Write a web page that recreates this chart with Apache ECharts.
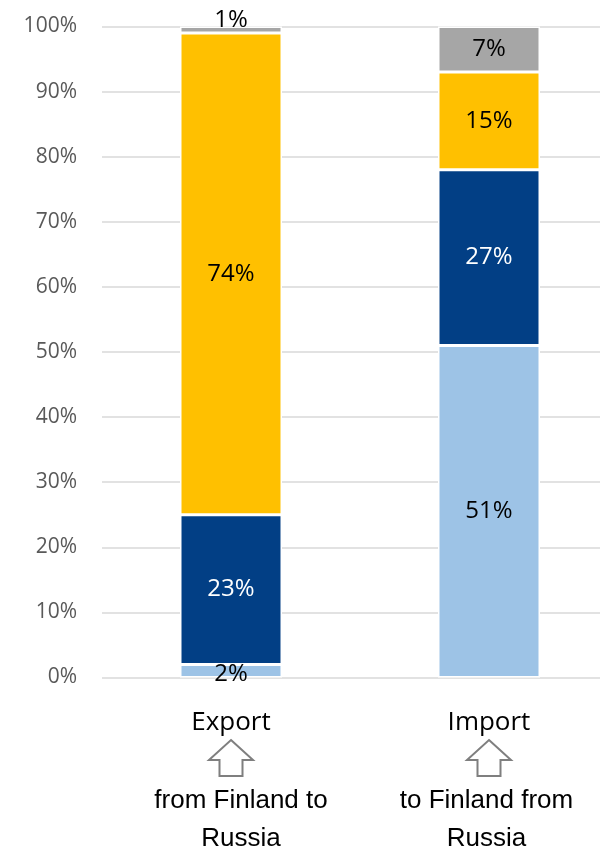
<!DOCTYPE html>
<html>
<head>
<meta charset="utf-8">
<script src="https://cdn.jsdelivr.net/npm/echarts@6/dist/echarts.min.js"></script>
<style>
  html, body { margin: 0; padding: 0; background: #fff; }
  #chart { width: 600px; height: 854px; }
</style>
</head>
<body>
<div id="chart"></div>
<script>
// data
const categories = ['Export', 'Import']
const subTitles = ['from Finland to\nRussia', 'to Finland from\nRussia']
const lightBlue = [2, 51]
const darkBlue = [23, 27]
const yellow = [74, 15]
const gray = [1, 7]
const yTicks = [0, 10, 20, 30, 40, 50, 60, 70, 80, 90, 100]

const chart = echarts.init(document.getElementById('chart'))

// small labels sit a bit off their segment, like in the picture
function items(values, offsets) {
  return values.map((v, i) => {
    if (offsets && offsets[i]) {
      return { value: v, label: { offset: offsets[i] } }
    }
    return v
  })
}

function barSeries(name, color, values, labelColor, offsets) {
  return {
    name: name,
    type: 'bar',
    stack: 'total',
    barWidth: 102,
    data: items(values, offsets),
    itemStyle: { color: color, borderColor: '#fff', borderWidth: 1.5 },
    label: {
      show: true,
      position: 'inside',
      formatter: '{c}%',
      fontFamily: 'Open Sans',
      fontSize: 24,
      color: labelColor
    }
  }
}

const subFont = { fontFamily: 'Liberation Sans', fontSize: 26, lineHeight: 38, color: '#000' }

const option = {
  animation: false,
  grid: { left: 102, right: -18, top: 26.5, bottom: 176.5, outerBoundsMode: 'none', containLabel: false },
  xAxis: {
    type: 'category',
    data: categories,
    axisLine: { show: false },
    axisTick: { show: false },
    axisLabel: {
      margin: 29,
      formatter: function (val, idx) {
        const sub = subTitles[idx].split('\n').map(s => '{b' + idx + '|' + s + '}').join('\n')
        return '{a|' + val + '}\n{gap|}\n' + sub
      },
      rich: {
        a: { fontFamily: 'Open Sans', fontSize: 26, lineHeight: 32, color: '#000' },
        gap: { lineHeight: 43 },
        b0: Object.assign({ padding: [0, 0, 0, 20] }, subFont),
        b1: Object.assign({ padding: [0, 5, 0, 0] }, subFont)
      }
    }
  },
  yAxis: {
    type: 'value',
    min: yTicks[0],
    max: yTicks[yTicks.length - 1],
    interval: 10,
    axisLine: { show: false },
    axisTick: { show: false },
    axisLabel: {
      margin: 25,
      formatter: '{value}%',
      fontFamily: 'Open Sans',
      fontSize: 21,
      color: '#595959'
    },
    splitLine: { lineStyle: { color: '#d9d9d9', width: 1.5 } }
  },
  series: [
    barSeries('light', '#9dc3e6', lightBlue, '#000', [[0, 3], null]),
    barSeries('dark', '#023f85', darkBlue, '#fff'),
    barSeries('yellow', '#ffc000', yellow, '#000'),
    barSeries('gray', '#a6a6a6', gray, '#000', [[0, -10], null])
  ]
}

option && chart.setOption(option)

// outlined up arrows under the category names
const arrows = categories.map(c => {
  const x = chart.convertToPixel({ xAxisIndex: 0 }, c)
  const top = 740, shoulder = 760, bottom = 776
  return {
    type: 'polygon',
    shape: {
      points: [
        [x, top], [x + 22, shoulder], [x + 11.5, shoulder], [x + 11.5, bottom],
        [x - 11.5, bottom], [x - 11.5, shoulder], [x - 22, shoulder]
      ]
    },
    style: { fill: '#fff', stroke: '#7f7f7f', lineWidth: 2 }
  }
})
chart.setOption({ graphic: arrows })
</script>
</body>
</html>
